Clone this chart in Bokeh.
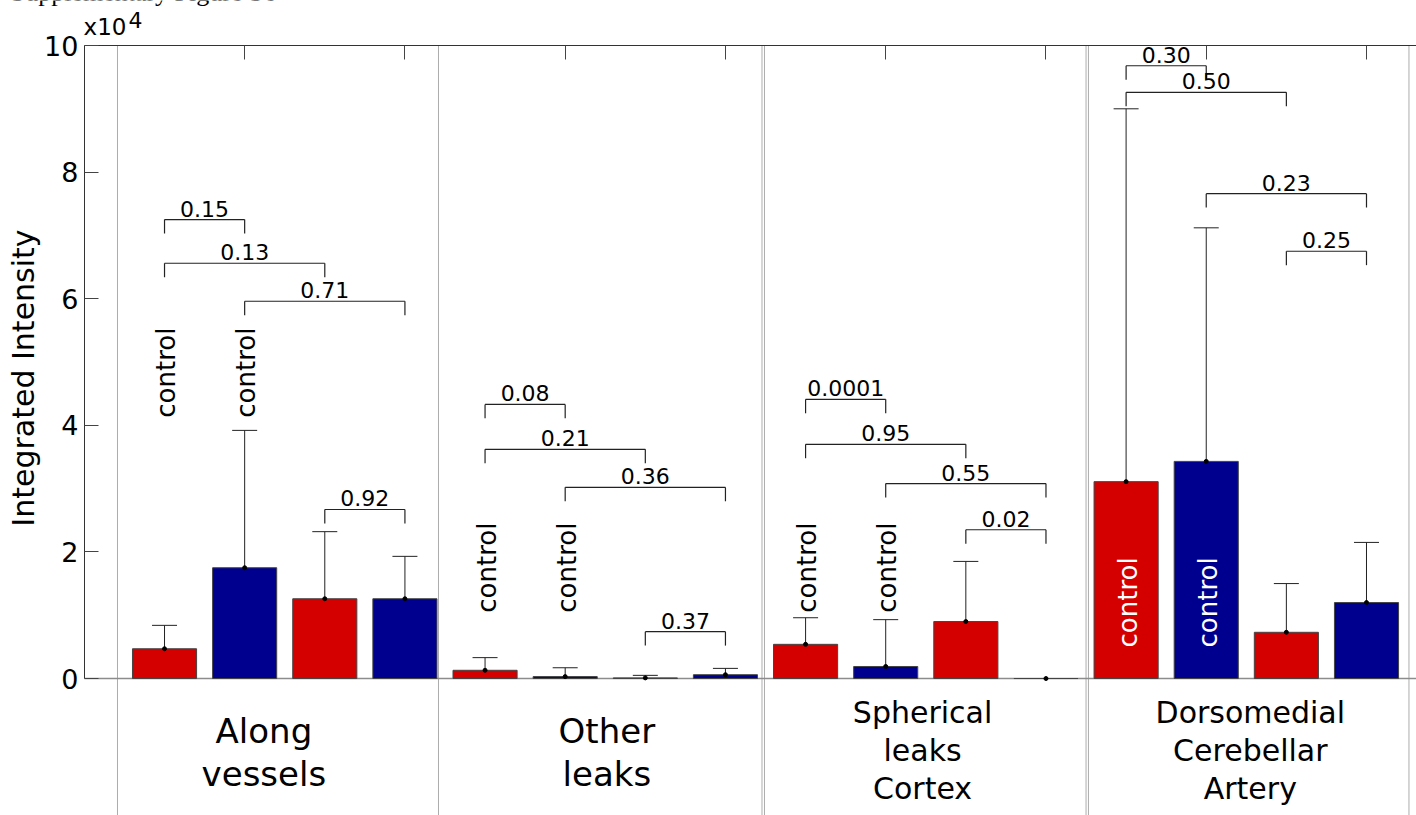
import math
from bokeh.plotting import figure
from bokeh.models import Range1d, FixedTicker
from bokeh.core.properties import value
from bokeh.embed import file_html
from bokeh.resources import INLINE

# ---- data (values in units of 10^4) ----
bar_pos = list(range(1, 17))
means = [0.47, 1.75, 1.26, 1.26,
         0.13, 0.03, 0.01, 0.06,
         0.54, 0.19, 0.90, 0.00,
         3.11, 3.43, 0.73, 1.20]
err_top = [0.84, 3.92, 2.32, 1.93,
           0.33, 0.17, 0.05, 0.16,
           0.96, 0.93, 1.85, 0.00,
           9.00, 7.12, 1.50, 2.15]
bar_colors = ["#d40000", "#00008f"] * 8

# significance brackets
br_left = [1, 1, 2, 3, 5, 5, 6, 7, 9, 9, 10, 11, 13, 13, 14, 15]
br_right = [2, 3, 4, 4, 6, 7, 8, 8, 10, 11, 12, 12, 14, 15, 16, 16]
br_y = [7.25, 6.56, 5.96, 2.67,
        4.33, 3.62, 3.02, 0.74,
        4.41, 3.70, 3.08, 2.35,
        9.68, 9.26, 7.66, 6.75]
p_vals = ["0.15", "0.13", "0.71", "0.92",
          "0.08", "0.21", "0.36", "0.37",
          "0.0001", "0.95", "0.55", "0.02",
          "0.30", "0.50", "0.23", "0.25"]

# "control" labels
control_bars = [1, 2, 5, 6, 9, 10, 13, 14]
control_y = [4.12, 4.12, 1.04, 1.04, 1.04, 1.04, 0.49, 0.49]
control_colors = ["black"] * 6 + ["white"] * 2

# group labels
group_lines = [["Along", "vessels"],
               ["Other", "leaks"],
               ["Spherical", "leaks", "Cortex"],
               ["Dorsomedial", "Cerebellar", "Artery"]]
group_x = [2.24, 6.52, 10.46, 14.55]
group_font = ["34px", "34px", "30px", "30px"]
group_first_y = [-0.83, -0.83, -0.53, -0.53]
group_step = [0.68, 0.68, 0.60, 0.60]

separators = [0.413, 4.419, 8.456, 8.487, 12.50, 12.53, 16.53]

y_ticks = [0, 2, 4, 6, 8, 10]
top_ticks = [2, 4, 6, 8, 10, 12, 14, 16]

FONT = "DejaVu Sans"
X_END = 16.7

# ---- figure: the frame covers the whole canvas ----
p = figure(width=1416, height=815, output_backend="svg", toolbar_location=None,
           x_range=Range1d(-1.047, 16.624), y_range=Range1d(-2.164, 10.711),
           x_axis_location="above", y_axis_location="left",
           min_border=0, min_border_left=0, min_border_right=0,
           min_border_top=0, min_border_bottom=0)
p.outline_line_color = None
p.xgrid.visible = False
p.ygrid.visible = False
p.background_fill_color = "white"
p.border_fill_color = "white"

# top axis: ticks only, fixed at the top of the data box
xa = p.xaxis[0]
xa.fixed_location = 10
xa.bounds = (0, X_END)
xa.ticker = FixedTicker(ticks=top_ticks)
xa.major_label_text_color = None
xa.major_label_text_font_size = "1px"
xa.major_tick_in = 14
xa.major_tick_out = 0
xa.minor_tick_line_color = None
xa.axis_line_color = "#333333"
xa.major_tick_line_color = "#444444"

# left axis
ya = p.yaxis[0]
ya.fixed_location = 0
ya.bounds = (0, 10)
ya.ticker = FixedTicker(ticks=y_ticks)
ya.major_tick_in = 14
ya.major_tick_out = 0
ya.minor_tick_line_color = None
ya.axis_line_color = "#333333"
ya.major_tick_line_color = "#444444"
ya.major_label_text_font = FONT
ya.major_label_text_font_size = "27px"
ya.major_label_text_color = "black"
ya.major_label_standoff = 6

# separators (dotted)
p.segment(x0=separators, x1=separators, y0=[10] * len(separators),
          y1=[-3] * len(separators), line_color="#5a5a5a", line_width=1,
          line_dash="1 1")

# zero line
p.segment(x0=[0], x1=[X_END], y0=[0], y1=[0], line_color="#8c8c8c", line_width=1.5)

# bars
p.vbar(x=bar_pos, top=means, bottom=0, width=0.8, fill_color=bar_colors,
       line_color="#444444", line_width=1)

# error bars
cap = 0.156
p.segment(x0=bar_pos, x1=bar_pos, y0=means, y1=err_top, line_color="#222222", line_width=1)
p.segment(x0=[b - cap for b, e in zip(bar_pos, err_top) if e > 0],
          x1=[b + cap for b, e in zip(bar_pos, err_top) if e > 0],
          y0=[e for e in err_top if e > 0], y1=[e for e in err_top if e > 0],
          line_color="#222222", line_width=1)
p.scatter(x=bar_pos, y=means, size=4, color="black")

# brackets
leg = 0.22
p.segment(x0=br_left, x1=br_right, y0=br_y, y1=br_y, line_color="#222222", line_width=1.2)
p.segment(x0=br_left, x1=br_left, y0=br_y, y1=[y - leg for y in br_y], line_color="#222222", line_width=1.2)
p.segment(x0=br_right, x1=br_right, y0=br_y, y1=[y - leg for y in br_y], line_color="#222222", line_width=1.2)
p.text(x=[(a + b) / 2 for a, b in zip(br_left, br_right)], y=[y + 0.174 for y in br_y],
       text=p_vals, text_font=value(FONT), text_font_size=value("22px"),
       text_align="center", text_baseline="middle", text_color="black")

# control labels
p.text(x=[b + 0.02 for b in control_bars], y=control_y, text=["control"] * len(control_bars),
       angle=math.pi / 2, text_font=value(FONT), text_font_size=value("26px"),
       text_align="left", text_baseline="middle", text_color=control_colors)

# group labels
for gx, lines, fs, y0, st in zip(group_x, group_lines, group_font, group_first_y, group_step):
    p.text(x=[gx] * len(lines), y=[y0 - i * st for i in range(len(lines))], text=lines,
           text_font=value(FONT), text_font_size=value(fs),
           text_align="center", text_baseline="middle", text_color="black")

# y-axis label, exponent, figure caption
p.text(x=[-0.76], y=[4.747], text=["Integrated Intensity"], angle=math.pi / 2,
       text_font=value(FONT), text_font_size=value("30px"), text_align="center",
       text_baseline="middle", text_color="black")
p.text(x=[-0.01], y=[10.30], text=["x10"], text_font=value(FONT), text_font_size=value("23px"),
       text_align="left", text_baseline="middle", text_color="black")
p.text(x=[0.55], y=[10.40], text=["4"], text_font=value(FONT), text_font_size=value("22px"),
       text_align="left", text_baseline="middle", text_color="black")
p.text(x=[-0.92], y=[10.83], text=["Supplementary Figure S6"], text_font=value("Liberation Serif"),
       text_font_size=value("26px"), text_align="left", text_baseline="middle",
       text_color="black")

open("out.html", "w").write(file_html(p, INLINE))
